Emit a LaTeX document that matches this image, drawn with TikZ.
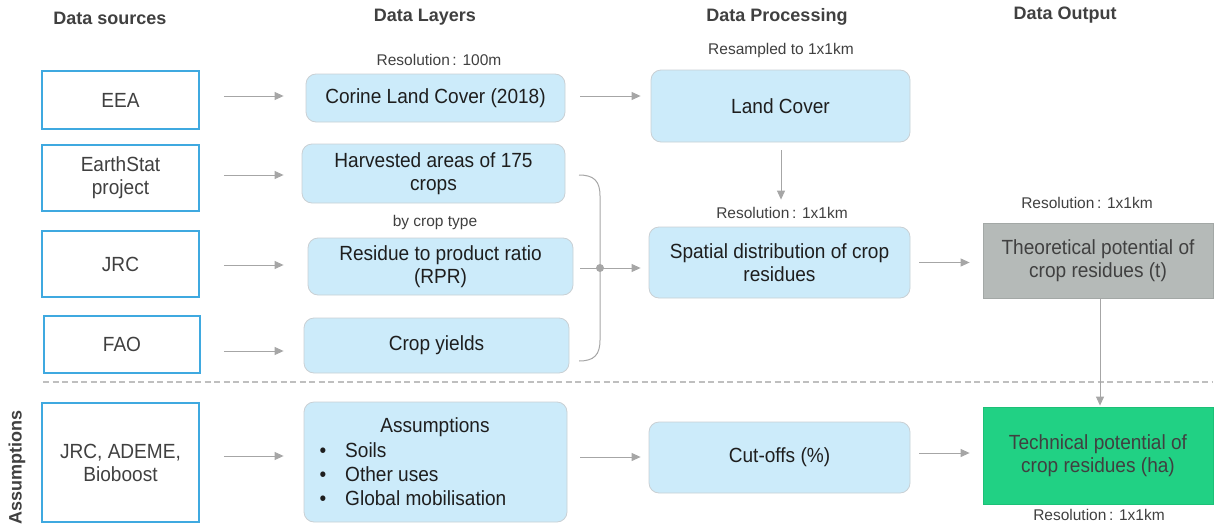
\documentclass[tikz,border=0pt]{standalone}
\usepackage{fontspec}
\setmainfont{Liberation Sans}
\newfontfamily\bodyfont{Liberation Sans}[FakeStretch=0.93]
\usetikzlibrary{arrows.meta,calc}
\definecolor{srcblue}{HTML}{3FA9E0}
\definecolor{lblue}{HTML}{CCEBFA}
\definecolor{lborder}{HTML}{C9D0D4}
\definecolor{arrgray}{HTML}{A6A6A6}
\definecolor{dashgray}{HTML}{BFBFBF}
\definecolor{boxgray}{HTML}{B5BAB8}
\definecolor{boxgrayb}{HTML}{A3A8A6}
\definecolor{tgreen}{HTML}{21D184}
\definecolor{tgreenb}{HTML}{1CC077}
\definecolor{txt}{HTML}{1E1E1E}
\definecolor{txtg}{HTML}{404040}
\begin{document}
\begin{tikzpicture}[x=1pt,y=-1pt,
  bfont/.style={font=\bodyfont\fontsize{20.5}{23}\selectfont},
  src/.style={draw=srcblue,line width=1.5pt,fill=white,minimum width=157pt,inner sep=0pt,align=center,bfont,text=txtg},
  layer/.style={draw=lborder,line width=0.8pt,fill=lblue,rounded corners=10pt,inner sep=0pt,align=center,bfont,text=txt},
  outbox/.style={line width=0.8pt,inner sep=0pt,align=center,bfont,text=txtg,minimum width=230pt},
  head/.style={font=\fontsize{18}{22}\selectfont\bfseries,text=txtg,inner sep=0pt},
  note/.style={font=\fontsize{15.5}{18}\selectfont,text=txtg,inner sep=0pt},
  arr/.style={draw=arrgray,line width=1pt,-{Triangle[length=9pt,width=8pt]}},
  conn/.style={draw=arrgray,line width=1pt}]
\useasboundingbox (0,0) rectangle (1214,527);

% headings
\node[head] (h1) at (110,18) {Data sources};
\node[head] (h2) at (425,17) {Data Layers};
\node[head] (h3) at (777,17) {Data Processing};
\node[head] (h4) at (1065,15) {Data Output};
\node[head,rotate=90] (h5) at (17,467) {Assumptions};

% notes
\node[note] (n1) at (439,60) {Resolution\,: 100m};
\node[note] (n2) at (781,50) {Resampled to 1x1km};
\node[note] (n3) at (435,222) {by crop type};
\node[note] (n4) at (782,213) {Resolution\,: 1x1km};
\node[note] (n5) at (1087,203) {Resolution\,: 1x1km};
\node[note] (n6) at (1099,515) {Resolution\,: 1x1km};

% sources
\node[src,minimum height=58pt] (eea) at (120.5,100) {EEA};
\node[src,minimum height=66pt] (earth) at (120.5,178) {EarthStat\\project};
\node[src,minimum height=66pt] (jrc) at (120.5,264) {JRC};
\node[src,minimum height=57pt,minimum width=156pt] (fao) at (122,344.5) {FAO};
\node[src,minimum height=119pt] (jrca) at (120.5,462.5) {JRC, ADEME,\\Bioboost};

% layers
\node[layer,minimum width=259pt,minimum height=48pt] (corine) at (435.5,98) {Corine Land Cover (2018)};
\node[layer,minimum width=263pt,minimum height=59pt] (harv) at (433.5,173.5) {Harvested areas of 175\\crops};
\node[layer,minimum width=265pt,minimum height=57pt] (rpr) at (440.5,266.5) {Residue to product ratio\\(RPR)};
\node[layer,minimum width=265pt,minimum height=55pt] (yield) at (436.5,345.5) {Crop yields};
\node[layer,minimum width=263pt,minimum height=120pt] (asm) at (435.5,462) {};
\node[bfont,text=txt,inner sep=0pt] (asmt) at (435,427) {Assumptions};
\node[font=\bodyfont\fontsize{20.5}{24}\selectfont,text=txt,inner sep=0pt,align=left,anchor=west] (asml) at (319.5,474)
  {\makebox[25.5pt][l]{\textbullet}Soils\\\makebox[25.5pt][l]{\textbullet}Other uses\\\makebox[25.5pt][l]{\textbullet}Global mobilisation};

% processing
\node[layer,minimum width=259pt,minimum height=72pt] (land) at (780.5,106) {Land Cover};
\node[layer,minimum width=261pt,minimum height=71pt] (spat) at (779.5,262.5) {Spatial distribution of crop\\residues};
\node[layer,minimum width=261pt,minimum height=71pt] (cut) at (779.5,457.5) {Cut-offs (\%)};

% outputs
\node[outbox,draw=boxgrayb,fill=boxgray,minimum height=75pt] (theo) at (1098,260.5) {Theoretical potential of\\crop residues (t)};
\node[outbox,draw=tgreenb,fill=tgreen,minimum height=97pt] (tech) at (1098,455.5) {Technical potential of\\crop residues (ha)};

% dashed separator
\coordinate (dl) at (43,382);
\coordinate (dr) at (1212,382);
\draw[dashgray,line width=1.5pt,dash pattern=on 6pt off 3.5pt] (dl) -- (dr);

% source -> layer arrows
\draw[arr,shorten <=24pt,shorten >=22pt] ([yshift=4pt]eea.east) -- ([yshift=4pt]eea.east -| corine.west);
\draw[arr,shorten <=24pt,shorten >=18pt] ([yshift=3pt]earth.east) -- ([yshift=3pt]earth.east -| harv.west);
\draw[arr,shorten <=24pt,shorten >=24pt] ([yshift=-1pt]jrc.east) -- ([yshift=-1pt]jrc.east -| rpr.west);
\draw[arr,shorten <=23pt,shorten >=20pt] ([yshift=-6.5pt]fao.east) -- ([yshift=-6.5pt]fao.east -| yield.west);
\draw[arr,shorten <=24pt,shorten >=20pt] ([yshift=6.5pt]jrca.east) -- ([yshift=6.5pt]jrca.east -| asm.west);

% layer -> processing
\draw[arr,shorten <=15pt,shorten >=10pt] ([yshift=2pt]corine.east) -- ([yshift=2pt]corine.east -| land.west);
\draw[arr,shorten <=8pt,shorten >=27pt] ([xshift=0.5pt]land.south) -- ([xshift=0.5pt]land.south |- spat.north);

% bracket
\coordinate (bt) at (579,175);
\coordinate (bb) at (579,361);
\coordinate (jn) at (600,268);
\coordinate (rj) at (580,268);
\draw[conn] (bt) .. controls (594,175) and (600,181) .. (600,196) -- (600,340) .. controls (600,355) and (594,361) .. (bb);
\draw[conn] (rj) -- (jn);
\fill[arrgray] (jn) circle (4pt);
\draw[arr,shorten >=8pt] (jn) -- (jn -| spat.west);

\draw[arr,shorten <=13pt,shorten >=8pt] ([yshift=5pt]asm.east) -- ([yshift=5pt]asm.east -| cut.west);

% processing -> output
\draw[arr,shorten <=9pt,shorten >=13pt] (spat.east) -- (spat.east -| theo.west);
\draw[arr,shorten <=9pt,shorten >=13pt] ([yshift=4.5pt]cut.east) -- ([yshift=4.5pt]cut.east -| tech.west);
\draw[arr,shorten >=1pt] ([xshift=2pt]theo.south) -- ([xshift=2pt]theo.south |- tech.north);
\end{tikzpicture}
\end{document}
